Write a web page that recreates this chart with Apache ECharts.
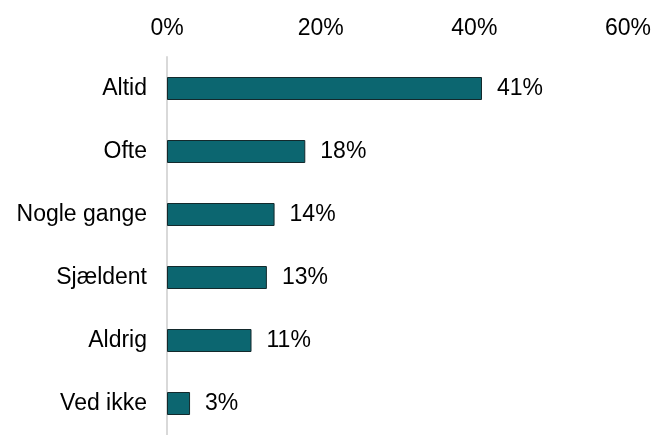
<!DOCTYPE html>
<html>
<head>
<meta charset="utf-8">
<style>
  html, body { margin: 0; padding: 0; background: #ffffff; }
  #chart { width: 654px; height: 435px; }
</style>
<script src="https://cdn.jsdelivr.net/npm/echarts@6/dist/echarts.min.js"></script>
</head>
<body>
<div id="chart"></div>
<script>
// Answer categories, top to bottom
const categories = ['Altid', 'Ofte', 'Nogle gange', 'Sjældent', 'Aldrig', 'Ved ikke'];
// Share of respondents (%)
const shares = [41, 18, 14, 13, 11, 3];
// Value axis ticks (%)
const tickValues = [0, 20, 40, 60];

const FONT = '"Liberation Sans", Arial, sans-serif';

const chart = echarts.init(document.getElementById('chart'), null, { renderer: 'canvas' });

chart.setOption({
  animation: false,
  backgroundColor: '#ffffff',
  grid: { left: 167, right: 25, top: 57, height: 387, containLabel: false },
  xAxis: {
    type: 'value',
    position: 'top',
    min: tickValues[0],
    max: tickValues[tickValues.length - 1],
    interval: tickValues[1] - tickValues[0],
    axisLine: { show: false },
    axisTick: { show: false },
    splitLine: { show: false },
    axisLabel: {
      formatter: v => v + '%',
      color: '#000000',
      fontFamily: FONT,
      fontSize: 23,
      margin: 17
    }
  },
  yAxis: {
    type: 'category',
    data: categories,
    inverse: true,
    axisLine: { show: true, lineStyle: { color: '#d9d9d9', width: 2 } },
    axisTick: { show: false },
    axisLabel: {
      color: '#000000',
      fontFamily: FONT,
      fontSize: 23,
      margin: 20
    }
  },
  series: [{
    type: 'bar',
    data: shares,
    barWidth: 23,
    itemStyle: {
      color: '#0c6670',
      borderColor: '#13292c',
      borderWidth: 1
    },
    label: {
      show: true,
      position: 'right',
      distance: 15,
      formatter: p => p.value + '%',
      color: '#000000',
      fontFamily: FONT,
      fontSize: 23
    }
  }]
});
</script>
</body>
</html>
